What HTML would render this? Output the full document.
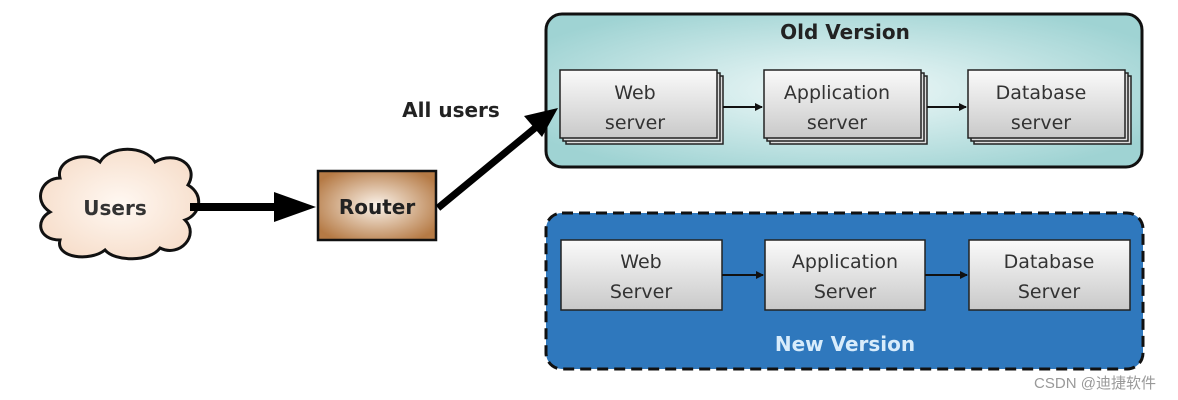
<!DOCTYPE html>
<html><head><meta charset="utf-8"><style>
html,body{margin:0;padding:0;background:#fff;width:1178px;height:400px;overflow:hidden}
text{font-family:"DejaVu Sans","Liberation Sans",sans-serif}
</style></head><body>
<svg width="1178" height="400" viewBox="0 0 1178 400" xmlns="http://www.w3.org/2000/svg">
<defs>
<radialGradient id="old" cx="50%" cy="50%" r="60%"><stop offset="0" stop-color="#f2fafa"/><stop offset="1" stop-color="#9fd3d3"/></radialGradient>
<radialGradient id="rt" cx="50%" cy="50%" r="60%"><stop offset="0" stop-color="#fbf3ea"/><stop offset="1" stop-color="#b57a45"/></radialGradient>
<radialGradient id="cl" cx="50%" cy="50%" r="60%"><stop offset="0" stop-color="#fff8f2"/><stop offset="1" stop-color="#f6dcc8"/></radialGradient>
<linearGradient id="bx" x1="0" y1="0" x2="0" y2="1"><stop offset="0" stop-color="#fafafa"/><stop offset="1" stop-color="#c9c9c9"/></linearGradient>
<marker id="ah" markerWidth="8" markerHeight="8" refX="7" refY="4" orient="auto" markerUnits="userSpaceOnUse"><path d="M0,0 L8,4 L0,8 z" fill="#111"/></marker>
</defs>
<rect x="546" y="14" width="596" height="153" rx="16" fill="url(#old)" stroke="#111" stroke-width="3"/>
<text x="845" y="39" font-size="20" font-weight="bold" text-anchor="middle" fill="#222">Old Version</text>
<g font-size="19" fill="#333" text-anchor="middle">
<g>
<rect x="566" y="76" width="157" height="68" fill="#ddd" stroke="#222" stroke-width="1.5"/>
<rect x="563" y="73" width="157" height="68" fill="#ddd" stroke="#222" stroke-width="1.5"/>
<rect x="560" y="70" width="157" height="68" fill="url(#bx)" stroke="#222" stroke-width="1.5"/>
<text x="635" y="99">Web</text><text x="635" y="129">server</text>
</g>
<g>
<rect x="770" y="76" width="157" height="68" fill="#ddd" stroke="#222" stroke-width="1.5"/>
<rect x="767" y="73" width="157" height="68" fill="#ddd" stroke="#222" stroke-width="1.5"/>
<rect x="764" y="70" width="157" height="68" fill="url(#bx)" stroke="#222" stroke-width="1.5"/>
<text x="837" y="99">Application</text><text x="837" y="129">server</text>
</g>
<g>
<rect x="974" y="76" width="157" height="68" fill="#ddd" stroke="#222" stroke-width="1.5"/>
<rect x="971" y="73" width="157" height="68" fill="#ddd" stroke="#222" stroke-width="1.5"/>
<rect x="968" y="70" width="157" height="68" fill="url(#bx)" stroke="#222" stroke-width="1.5"/>
<text x="1041" y="99">Database</text><text x="1041" y="129">server</text>
</g>
</g>
<line x1="723" y1="107" x2="762" y2="107" stroke="#111" stroke-width="2" marker-end="url(#ah)"/>
<line x1="927" y1="107" x2="966" y2="107" stroke="#111" stroke-width="2" marker-end="url(#ah)"/>
<rect x="546" y="213" width="597" height="156" rx="16" fill="#2f78bd" stroke="#111" stroke-width="3" stroke-dasharray="11,6"/>
<g font-size="19" fill="#333" text-anchor="middle">
<rect x="561" y="240" width="161" height="70" fill="url(#bx)" stroke="#222" stroke-width="1.5"/>
<text x="641" y="268">Web</text><text x="641" y="298">Server</text>
<rect x="765" y="240" width="160" height="70" fill="url(#bx)" stroke="#222" stroke-width="1.5"/>
<text x="845" y="268">Application</text><text x="845" y="298">Server</text>
<rect x="969" y="240" width="161" height="70" fill="url(#bx)" stroke="#222" stroke-width="1.5"/>
<text x="1049" y="268">Database</text><text x="1049" y="298">Server</text>
</g>
<line x1="722" y1="275" x2="763" y2="275" stroke="#111" stroke-width="2" marker-end="url(#ah)"/>
<line x1="925" y1="275" x2="967" y2="275" stroke="#111" stroke-width="2" marker-end="url(#ah)"/>
<text x="845" y="351" font-size="20" font-weight="bold" text-anchor="middle" fill="#d8ecfb">New  Version</text>
<path d="M60,178 C55,160 85,150 100,162 C110,145 145,145 155,162 C175,150 200,165 188,185 C205,195 200,215 185,220 C200,235 180,258 160,248 C150,262 115,262 105,250 C90,262 55,258 60,240 C38,240 35,220 50,212 C32,200 42,178 60,178 Z" fill="url(#cl)" stroke="#111" stroke-width="3"/>
<text x="115" y="215" font-size="20" font-weight="bold" text-anchor="middle" fill="#333">Users</text>
<line x1="190" y1="207" x2="282" y2="207" stroke="#000" stroke-width="8"/>
<path d="M274,192 L316,207 L274,222 Z" fill="#000"/>
<rect x="318" y="171" width="118" height="69" fill="url(#rt)" stroke="#111" stroke-width="2.5"/>
<text x="377" y="214" font-size="20" font-weight="bold" text-anchor="middle" fill="#222">Router</text>
<line x1="438" y1="208" x2="535" y2="128" stroke="#000" stroke-width="7"/>
<path d="M524,116 L558,108 L542,137 Z" fill="#000"/>
<text x="451" y="117" font-size="20" font-weight="bold" text-anchor="middle" fill="#222">All users</text>
<text x="1095" y="388" font-size="15" text-anchor="middle" fill="#999" style="font-family:'Liberation Sans','Noto Sans CJK SC',sans-serif">CSDN @迪捷软件</text>
</svg>
</body></html>
